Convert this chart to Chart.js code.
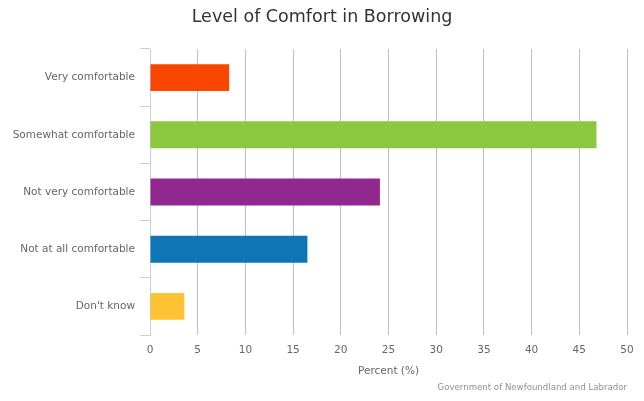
<!DOCTYPE html>
<html>
<head>
<meta charset="utf-8">
<script src="https://cdn.jsdelivr.net/npm/chart.js@4"></script>
<style>
  html, body { margin: 0; padding: 0; background: #fff; }
  #wrap { width: 644px; height: 401px; }
</style>
</head>
<body>
<div id="wrap"><canvas id="myChart"></canvas></div>
<script>
// data
const categories = [
  "Very comfortable",
  "Somewhat comfortable",
  "Not very comfortable",
  "Not at all comfortable",
  "Don't know",
];
const percent = [8.3, 46.8, 24.1, 16.5, 3.6];
const barColors = ["#F94600", "#8DC63F", "#92278F", "#0E76B5", "#FFC233"];
const xTicks = [0, 5, 10, 15, 20, 25, 30, 35, 40, 45, 50];

const fontFamily = "'DejaVu Sans', Verdana, sans-serif";

// title centred on the whole canvas + credits bottom right
const textPlugin = {
  id: "texts",
  afterDraw(chart) {
    const c = chart.ctx;
    c.save();
    c.textBaseline = "middle";
    c.textAlign = "center";
    c.font = "17.5px " + fontFamily;
    c.fillStyle = "#333333";
    c.fillText("Level of Comfort in Borrowing", chart.width / 2, 17);
    c.font = "8.6px " + fontFamily;
    c.fillStyle = "#909090";
    c.textAlign = "right";
    c.fillText("Government of Newfoundland and Labrador", 627, 388);
    c.restore();
  },
};

const ctx = document.getElementById("myChart");
new Chart(ctx, {
  type: "bar",
  data: {
    labels: categories,
    datasets: [
      {
        label: "Percent",
        data: percent,
        backgroundColor: barColors,
        borderWidth: 0,
        categoryPercentage: 0.94,
        barPercentage: 0.5,
      },
    ],
  },
  plugins: [textPlugin],
  options: {
    indexAxis: "y",
    responsive: true,
    maintainAspectRatio: false,
    animation: false,
    layout: { padding: { left: 0, right: 17, top: 49, bottom: 0 } },
    plugins: {
      legend: { display: false },
      tooltip: { enabled: false },
      title: { display: false },
    },
    scales: {
      x: {
        min: 0,
        max: 50,
        afterBuildTicks(scale) {
          scale.ticks = xTicks.map((v) => ({ value: v }));
        },
        afterFit(scale) {
          scale.height = 66;
        },
        grid: {
          color: "#C0C0C0",
          lineWidth: 1,
          drawTicks: false,
        },
        border: { display: false },
        ticks: {
          color: "#666666",
          font: { family: fontFamily, size: 10.5 },
          padding: 9,
        },
        title: {
          display: true,
          text: "Percent (%)",
          color: "#666666",
          font: { family: fontFamily, size: 10.5 },
          padding: { top: 0, bottom: 23 },
        },
      },
      y: {
        afterFit(scale) {
          scale.width = 150;
        },
        grid: {
          drawOnChartArea: false,
          color: "#C0D0E0",
          tickLength: 10,
          offset: true,
        },
        border: { display: true, color: "#C0D0E0" },
        ticks: {
          color: "#666666",
          font: { family: fontFamily, size: 10.5 },
          padding: 5,
        },
      },
    },
  },
});
</script>
</body>
</html>
